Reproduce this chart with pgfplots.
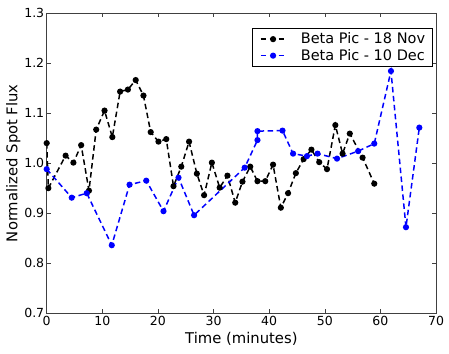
\documentclass[border=0pt]{standalone}
\usepackage{fontspec}
\setmainfont{DejaVu Sans}
\usepackage{pgfplots}
\pgfplotsset{compat=1.18}
\usetikzlibrary{calc}

\pgfplotstableread{
t f
0.0 1.040
0.3 0.950
3.4 1.015
4.8 1.001
6.2 1.036
7.6 0.945
8.9 1.067
10.4 1.105
11.8 1.052
13.2 1.143
14.6 1.147
16.0 1.166
17.4 1.135
18.7 1.062
20.1 1.043
21.5 1.048
22.8 0.954
24.2 0.993
25.6 1.043
27.0 0.979
28.3 0.936
29.7 1.001
31.1 0.951
32.5 0.975
33.9 0.921
35.2 0.963
36.6 0.993
37.9 0.964
39.3 0.964
40.7 0.997
42.1 0.911
43.4 0.940
44.8 0.980
46.2 1.008
47.6 1.027
49.0 1.002
50.4 0.988
51.9 1.076
53.2 1.019
54.5 1.059
56.8 1.011
58.9 0.959
}\novdata

\pgfplotstableread{
t f
0.0 0.988
4.5 0.931
7.2 0.940
11.7 0.836
14.9 0.957
17.9 0.965
21.0 0.904
23.7 0.971
26.5 0.896
35.6 0.991
37.9 1.046
37.9 1.064
42.4 1.065
44.3 1.019
46.8 1.014
48.7 1.019
52.2 1.009
56.0 1.024
58.9 1.039
61.9 1.184
64.6 0.872
67.0 1.071
}\decdata

\begin{document}
\begin{tikzpicture}
\begin{axis}[
  scale only axis,
  width=389.3bp, height=300.3bp,
  xmin=0, xmax=70, ymin=0.7, ymax=1.3,
  xtick={0,10,...,70},
  ytick={0.7,0.8,...,1.3},
  yticklabel style={/pgf/number format/fixed,/pgf/number format/precision=1,/pgf/number format/fixed zerofill},
  /pgf/number format/assume math mode=true,
  tick align=inside,
  major tick length=4bp,
  tick style={black!75, line width=0.5pt},
  axis line style={black!75, line width=0.8pt},
  ticklabel style={font=\fontsize{12.5bp}{14bp}\selectfont},
  xticklabel style={yshift=1bp},
  yticklabel style={xshift=1bp},
  label style={font=\fontsize{14.8bp}{17bp}\selectfont},
  xlabel={Time (minutes)},
  ylabel={Normalized Spot Flux},
  xlabel style={yshift=0bp},
  ylabel style={yshift=-3bp},
  legend style={at={(1,1)}, anchor=north east, xshift=-3bp, yshift=-15bp,
    draw=black, line width=0.8pt, font=\fontsize{14.5bp}{16bp}\selectfont,
    inner xsep=7bp, inner ysep=4bp, row sep=3bp, column sep=14bp,
    nodes={inner sep=0.5bp}, cells={anchor=west}},
  legend cell align=left,
  legend image code/.code={
    \draw[mark repeat=2,mark phase=2,#1] plot coordinates {(0bp,0bp)(12.5bp,0bp)(25bp,0bp)};},
]
\addplot[black, line width=1.5pt, dash pattern=on 5.5bp off 3.5bp,
  mark=*, mark size=2.3bp, mark options={solid}] table[x=t,y=f] {\novdata};
\addlegendentry{Beta Pic - 18 Nov}
\addplot[blue, line width=1.5pt, dash pattern=on 5.5bp off 3.5bp,
  mark=*, mark size=2.3bp, mark options={solid}] table[x=t,y=f] {\decdata};
\addlegendentry{Beta Pic - 10 Dec}
\end{axis}
\path ($(current axis.south west)+(-46.7bp,-40.7bp)$) rectangle ($(current axis.north east)+(13bp,13bp)$);
\end{tikzpicture}
\end{document}
